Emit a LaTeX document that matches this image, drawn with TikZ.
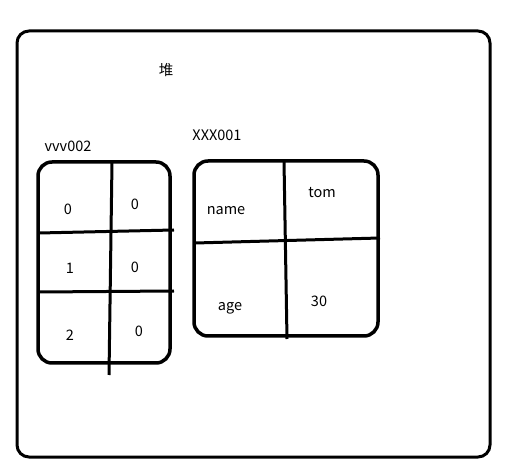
\documentclass[tikz,border=0pt]{standalone}
\usepackage{fontspec}
\setmainfont{Noto Sans CJK SC}
\usepackage{tikz}
\usetikzlibrary{positioning}

\tikzset{
  frame/.style={line width=3pt, rounded corners=12pt},
  cellbox/.style={line width=3.5pt, rounded corners=14pt},
  divider/.style={line width=3pt},
  lbl/.style={font=\fontsize{14.5}{16}\selectfont, inner sep=0pt}
}

\begin{document}
\begin{tikzpicture}[x=1pt, y=-1pt]
  \useasboundingbox (0,0) rectangle (507,476);

  % Heap border
  \draw[frame] (17,31) rectangle (490,457);
  \node[lbl] (heap) at (166,70) {堆};

  % Array object (left)
  \node[lbl] (vvvlabel) at (68,146) {vvv002};
  \draw[cellbox] (38,162) rectangle (170,363);
  \draw[divider] (112,162) -- (109,375);
  \draw[divider] (39,233) -- (174,230);
  \draw[divider] (39,292) -- (174,291);
  \node[lbl] (a00) at (68,209) {0};
  \node[lbl] (a01) at (135,204) {0};
  \node[lbl] (a10) at (70,268) {1};
  \node[lbl] (a11) at (135,267) {0};
  \node[lbl] (a20) at (70,335) {2};
  \node[lbl] (a21) at (139,331) {0};

  % Person object (right)
  \node[lbl] (xxxlabel) at (217,135) {XXX001};
  \draw[cellbox] (194,161) rectangle (378,336);
  \draw[divider] (284,161) -- (287,339);
  \draw[divider] (195,243) -- (380,238);
  \node[lbl] (namekey) at (226,211) {name};
  \node[lbl] (nameval) at (322,193) {tom};
  \node[lbl] (agekey) at (230,308) {age};
  \node[lbl] (ageval) at (319,301) {30};
\end{tikzpicture}
\end{document}
